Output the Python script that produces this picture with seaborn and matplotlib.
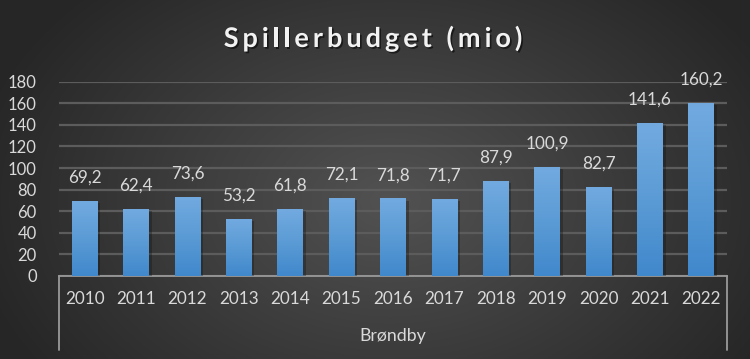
import numpy as np
import pandas as pd
import matplotlib
matplotlib.use("Agg")
import matplotlib.pyplot as plt
import matplotlib.patheffects as pe
from matplotlib.colors import LinearSegmentedColormap
import seaborn as sns

years = ["2010", "2011", "2012", "2013", "2014", "2015", "2016",
         "2017", "2018", "2019", "2020", "2021", "2022"]
budget = [69.2, 62.4, 73.6, 53.2, 61.8, 72.1, 71.8, 71.7, 87.9, 100.9, 82.7, 141.6, 160.2]
group_label = "Brøndby"
title = "Spillerbudget (mio)"
yticks = [0, 20, 40, 60, 80, 100, 120, 140, 160, 180]

sns.set_theme(style="dark")
plt.rcParams['font.family'] = ['Lato', 'DejaVu Sans']

W, H = 750, 359
fig = plt.figure(figsize=(W / 100, H / 100), dpi=100)

# radial gradient background
bg = fig.add_axes([0, 0, 1, 1], zorder=-10)
yy, xx = np.mgrid[0:H, 0:W]
r = np.sqrt(((xx - 390) / 430) ** 2 + ((yy - 200) / 300) ** 2)
r = np.clip(r, 0, 1)
bg_cmap = LinearSegmentedColormap.from_list("bg", ["#525252", "#3c3c3c", "#262626"])
bg.imshow(r, cmap=bg_cmap, aspect="auto", extent=[0, W, H, 0], vmin=0, vmax=1)
bg.set_axis_off()

left, right = 59 / W, 727 / W
bottom, top = 1 - 276 / H, 1 - 81.7 / H
ax = fig.add_axes([left, bottom, right - left, top - bottom])
ax.set_facecolor("none")

df = pd.DataFrame({"year": years, "budget": budget})
sns.barplot(data=df, x="year", y="budget", ax=ax, width=0.5, color="#5b9bd5",
            edgecolor="none", zorder=3)

ax.set_ylim(0, 180)
ax.set_xlim(-0.5, len(years) - 0.5)
ax.set_yticks(yticks)
ax.set_yticklabels([str(t) for t in yticks])
ax.grid(axis="y", color="#5c5c5c", linewidth=1.6, zorder=0)
ax.grid(axis="x", visible=False)
ax.set_axisbelow(True)
for s in ["left", "right", "top"]:
    ax.spines[s].set_visible(False)
ax.spines["bottom"].set_color("#9a9a9a")
ax.spines["bottom"].set_linewidth(1.3)
ax.tick_params(axis="y", length=0, pad=16, labelsize=12, labelcolor="#d9d9d9")
ax.tick_params(axis="x", length=0, pad=11, labelsize=12.3, labelcolor="#d9d9d9")
ax.set_xlabel("")
ax.set_ylabel("")

# gradient fill for bars with a soft shadow
grad_cmap = LinearSegmentedColormap.from_list("bar", ["#4088cc", "#5b9bd5", "#72aae0"])
grad = np.linspace(0, 1, 256).reshape(-1, 1)
for p, v in zip(ax.patches, budget):
    x0, w, h = p.get_x(), p.get_width(), p.get_height()
    p.set_facecolor("none")
    p.set_path_effects([pe.SimplePatchShadow(offset=(2, -1.5), shadow_rgbFace="#151515", alpha=0.35)])
    im = ax.imshow(grad, cmap=grad_cmap, aspect="auto", origin="lower",
                   extent=[x0, x0 + w, 0, h], zorder=3)
    im.set_clip_path(p)
    ax.annotate(f"{v:.1f}".replace(".", ","), (x0 + w / 2, h), xytext=(0, 11),
                textcoords="offset points", ha="center", va="bottom",
                fontsize=12.3, color="#d9d9d9")

ax.set_xlim(-0.5, len(years) - 0.5)
ax.set_ylim(0, 180)

# group bracket lines
ln_kw = dict(color="#9a9a9a", linewidth=1.3, transform=fig.transFigure, clip_on=False)
fig.add_artist(plt.Line2D([left, left], [bottom, 1 - 350 / H], **ln_kw))
fig.add_artist(plt.Line2D([right, right], [bottom, 1 - 350 / H], **ln_kw))
fig.text((left + right) / 2, 1 - 336 / H, group_label, ha="center", va="center",
         fontsize=12.8, color="#d9d9d9")

# title with letter spacing (drawn character by character)
renderer = fig.canvas.get_renderer()
t_kw = dict(fontsize=19.5, fontweight="bold", color="#f2f2f2")
spacing = 4.0
tmp_widths = []
for i in range(len(title) + 1):
    t = fig.text(0, 0, title[:i] if i else "", **t_kw)
    tmp_widths.append(t.get_window_extent(renderer).width if i else 0.0)
    t.remove()
total = tmp_widths[-1] + spacing * (len(title) - 1)
x_start = (223 + 523) / 2 - total / 2
for i, ch in enumerate(title):
    xpx = x_start + tmp_widths[i] + spacing * i
    fig.text(xpx / W, 1 - 47 / H, ch, ha="left", va="baseline", **t_kw,
             path_effects=[pe.withSimplePatchShadow(offset=(1.2, -1.2), shadow_rgbFace="#000000", alpha=0.55)])

fig.savefig("out.png", dpi=100)
